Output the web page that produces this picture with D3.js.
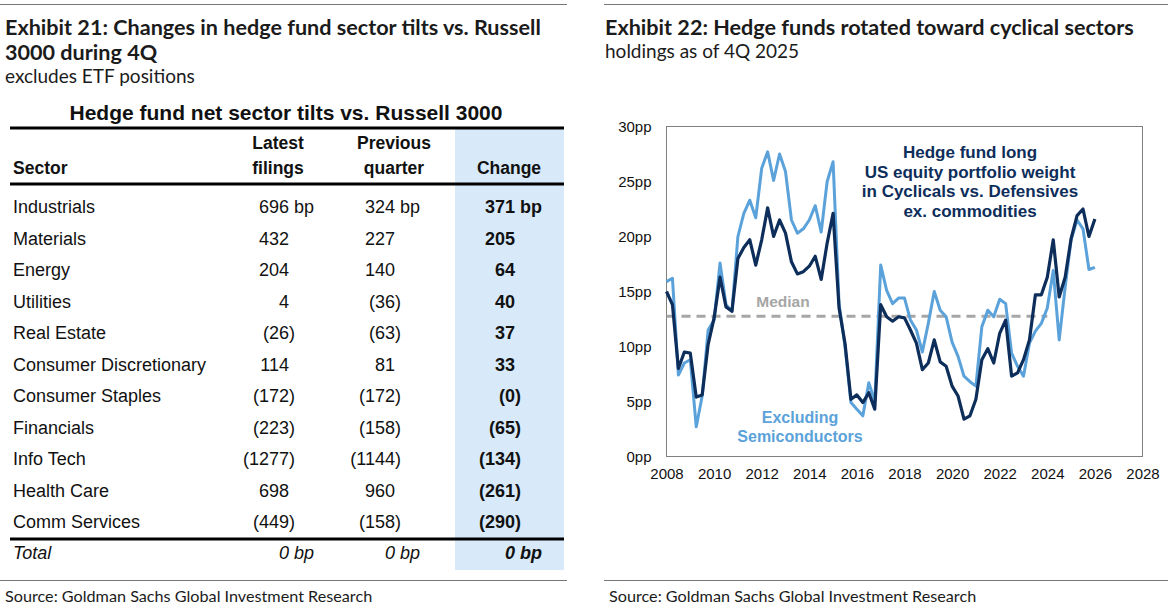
<!DOCTYPE html>
<html>
<head>
<meta charset="utf-8">
<script src="https://cdn.jsdelivr.net/npm/d3@7"></script>
<style>
  html, body { margin: 0; padding: 0; background: #fff; }
  svg { display: block; }
  .ttl { font-family: Lato, "Noto Sans", sans-serif; fill: #1b1b1b; }
  .tbl { font-family: "Liberation Sans", Arial, sans-serif; fill: #111; }
  .ax  { font-family: "Liberation Sans", Arial, sans-serif; fill: #111; font-size: 15px; }
</style>
</head>
<body>
<svg id="page" width="1173" height="615"></svg>
<script>
// ---- Exhibit 21 table data (bp)
const sectors  = ["Industrials","Materials","Energy","Utilities","Real Estate","Consumer Discretionary",
                  "Consumer Staples","Financials","Info Tech","Health Care","Comm Services"];
const latest   = [696, 432, 204, 4, -26, 114, -172, -223, -1277, 698, -449];
const previous = [324, 227, 140, -36, -63, 81, -172, -158, -1144, 960, -158];
const change   = [371, 205, 64, 40, 37, 33, -0, -65, -134, -261, -290];
const totals   = [0, 0, 0];

// ---- Exhibit 22 series (pp), quarterly from 2008
const firstYear = 2008;
const hfLong = [15.0,13.8,8.0,9.5,9.4,5.4,5.6,10.2,12.6,16.3,13.6,13.2,18.0,19.0,19.7,17.4,19.7,22.6,20.0,21.5,
  20.3,17.7,16.6,16.8,17.3,18.2,16.1,19.4,22.1,13.5,10.3,5.2,5.6,4.9,5.8,4.3,13.8,12.7,12.3,12.7,
  12.6,11.5,10.3,7.9,8.5,10.6,8.6,8.2,6.4,5.5,3.4,3.7,5.2,8.8,9.8,8.5,11.2,12.4,7.3,7.6,
  8.8,10.6,14.7,14.7,16.3,19.7,14.5,16.3,19.8,21.9,22.5,20.0,21.6];
const exSemis = [15.9,16.2,7.4,8.5,8.8,2.7,5.5,11.5,12.4,17.6,13.8,13.2,20.0,22.1,23.3,21.7,26.2,27.7,25.1,27.5,
  25.9,21.5,20.3,20.7,21.5,22.8,20.4,25.0,26.8,13.9,10.0,4.9,4.3,3.7,6.7,5.0,17.4,15.1,13.9,14.4,
  14.4,12.4,11.5,9.5,12.1,15.0,13.3,12.7,10.4,9.1,7.3,6.8,6.4,11.8,13.3,12.7,14.3,13.9,9.4,8.2,
  7.3,10.3,11.4,12.1,13.5,16.9,10.6,15.4,19.7,21.5,20.7,17.0,17.2];
const median = 12.75, medianSpan = [2008, 2024];
const yTicks = [0, 5, 10, 15, 20, 25, 30];
const xTicks = [2008, 2010, 2012, 2014, 2016, 2018, 2020, 2022, 2024, 2026, 2028];

const svg = d3.select("#page");

// ---------- frame rules + titles
[[0, 567], [604, 1168]].forEach(([a, b]) => {
  svg.append("line").attr("x1", a).attr("x2", b).attr("y1", 4.5).attr("y2", 4.5).attr("stroke", "#777");
  svg.append("line").attr("x1", a).attr("x2", b).attr("y1", 580.5).attr("y2", 580.5).attr("stroke", "#777");
  svg.append("text").attr("class", "ttl").attr("x", a + 5).attr("y", 602).style("font-size", "16.2px")
    .text("Source: Goldman Sachs Global Investment Research");
});
const bigT = (x, y, t) => svg.append("text").attr("class", "ttl").attr("x", x).attr("y", y)
  .style("font-size", "21.6px").style("font-weight", 700).text(t);
const subT = (x, y, t) => svg.append("text").attr("class", "ttl").attr("x", x).attr("y", y)
  .style("font-size", "19px").text(t);
bigT(5, 35, "Exhibit 21: Changes in hedge fund sector tilts vs. Russell");
bigT(5, 60, "3000 during 4Q");
subT(5, 83, "excludes ETF positions");
bigT(605, 35, "Exhibit 22: Hedge funds rotated toward cyclical sectors");
subT(605, 58, "holdings as of 4Q 2025");

// ---------- table
const T = svg.append("g").attr("class", "tbl");
const colX = { latest: 289, previous: 395, change: 515 };
const rowY = d3.scalePoint().domain(sectors).range([213, 528]);

T.append("rect").attr("x", 455).attr("y", 128).attr("width", 109).attr("height", 442).attr("fill", "#d8eafa");
T.append("text").attr("x", 286).attr("y", 120).attr("text-anchor", "middle")
  .style("font-size", "21px").style("font-weight", 700).text("Hedge fund net sector tilts vs. Russell 3000");
[128, 184, 539].forEach(y => T.append("rect").attr("x", 10).attr("y", y - 1.5).attr("width", 554).attr("height", 3).attr("fill", "#000"));

const hdr = T.append("g").style("font-size", "17.5px").style("font-weight", 700);
hdr.append("text").attr("x", 13).attr("y", 174).text("Sector");
[["Latest", "filings", 278], ["Previous", "quarter", 394]].forEach(([a, b, x]) => {
  hdr.append("text").attr("x", x).attr("y", 149).attr("text-anchor", "middle").text(a);
  hdr.append("text").attr("x", x).attr("y", 174).attr("text-anchor", "middle").text(b);
});
hdr.append("text").attr("x", 509).attr("y", 174).attr("text-anchor", "middle").text("Change");

// accounting-style cell: digits right-aligned at x, ")" or " bp" hangs after
function cell(g, x, y, v, unit) {
  const neg = v < 0 || Object.is(v, -0);
  g.append("text").attr("x", x).attr("y", y).attr("text-anchor", "end").text((neg ? "(" : "") + Math.abs(v));
  const tail = (neg ? ")" : "") + (unit ? "\u00a0bp" : "");
  if (tail) g.append("text").attr("x", x).attr("y", y).text(tail);
}

const body = T.append("g").style("font-size", "18px");
sectors.forEach((s, i) => {
  const y = rowY(s);
  body.append("text").attr("x", 13).attr("y", y).text(s);
  cell(body, colX.latest, y, latest[i], i === 0);
  cell(body, colX.previous, y, previous[i], i === 0);
  const b = body.append("g").style("font-weight", 700);
  cell(b, colX.change, y, change[i], i === 0);
});
const tot = T.append("g").style("font-size", "18px").style("font-style", "italic");
tot.append("text").attr("x", 13).attr("y", 559).text("Total");
cell(tot, colX.latest, 559, totals[0], true);
cell(tot, colX.previous, 559, totals[1], true);
cell(tot.append("g").style("font-weight", 700), colX.change, 559, totals[2], true);

// ---------- line chart
const x = d3.scaleLinear().domain([2008, 2028]).range([666.5, 1142.5]);
const y = d3.scaleLinear().domain([0, 30]).range([456.5, 126.5]);
const C = svg.append("g");

C.append("rect").attr("x", x(2008)).attr("y", y(30)).attr("width", x(2028) - x(2008)).attr("height", y(0) - y(30))
  .attr("fill", "none").attr("stroke", "#808080").attr("stroke-width", 1);

C.append("g").attr("class", "ax").attr("transform", `translate(0,${y(0)})`)
  .call(d3.axisBottom(x).tickValues(xTicks).tickFormat(d3.format("d")).tickSize(0).tickPadding(12))
  .call(g => g.select(".domain").remove())
  .selectAll("text").attr("class", "ax").attr("fill", "#111");
C.append("g").attr("class", "ax").attr("transform", `translate(${x(2008)},0)`)
  .call(d3.axisLeft(y).tickValues(yTicks).tickFormat(d => d + "pp").tickSize(0).tickPadding(15))
  .call(g => g.select(".domain").remove())
  .selectAll("text").attr("class", "ax").attr("fill", "#111");

const dates = hfLong.map((_, i) => firstYear + i / 4);
const line = d3.line().x((d, i) => x(dates[i])).y(d => y(d));

C.append("line").attr("x1", x(medianSpan[0])).attr("x2", x(medianSpan[1]))
  .attr("y1", y(median)).attr("y2", y(median))
  .attr("stroke", "#a6a6a6").attr("stroke-width", 3).attr("stroke-dasharray", "9,6");
C.append("path").datum(exSemis).attr("d", line).attr("fill", "none")
  .attr("stroke", "#5ba2da").attr("stroke-width", 3).attr("stroke-linejoin", "round");
C.append("path").datum(hfLong).attr("d", line).attr("fill", "none")
  .attr("stroke", "#0d2d5a").attr("stroke-width", 3.2).attr("stroke-linejoin", "round");

const ann = C.append("g").attr("class", "tbl").style("font-weight", 700);
["Hedge fund long", "US equity portfolio weight", "in Cyclicals vs. Defensives", "ex. commodities"]
  .forEach((t, i) => ann.append("text").attr("x", 970).attr("y", 158 + i * 19.5).attr("text-anchor", "middle")
    .style("font-size", "17px").style("fill", "#0d2d5a").text(t));
ann.append("text").attr("x", 783).attr("y", 307).attr("text-anchor", "middle")
  .style("font-size", "15.5px").style("fill", "#a6a6a6").text("Median");
ann.append("text").attr("x", 800).attr("y", 423).attr("text-anchor", "middle")
  .style("font-size", "16px").style("fill", "#5ba2da").text("Excluding");
ann.append("text").attr("x", 800).attr("y", 442).attr("text-anchor", "middle")
  .style("font-size", "16px").style("fill", "#5ba2da").text("Semiconductors");
</script>
</body>
</html>
